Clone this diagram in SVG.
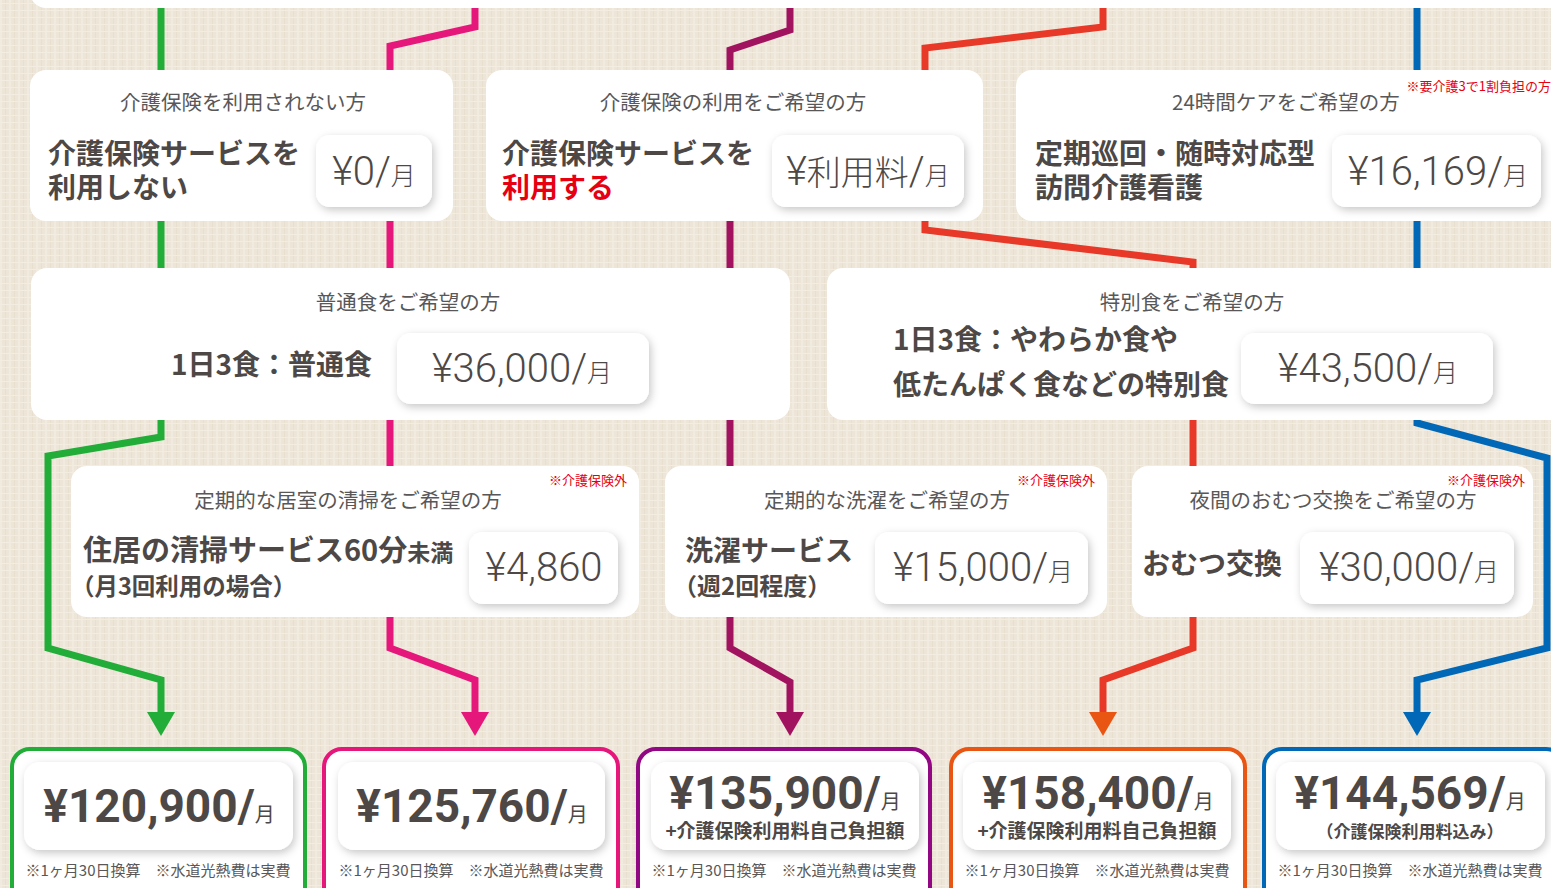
<svg xmlns="http://www.w3.org/2000/svg" width="1551" height="888" viewBox="0 0 1551 888">
<defs>
<pattern id="tex" width="9" height="7" patternUnits="userSpaceOnUse">
<rect width="9" height="7" fill="#ede5d7"/>
<rect x="0" y="0" width="2" height="7" fill="#f1ebdf"/>
<rect x="5" y="0" width="1" height="7" fill="#e8dfcf"/>
<rect x="0" y="3" width="9" height="1" fill="#f2ece1"/>
</pattern>
<filter id="sh" x="-20%" y="-30%" width="140%" height="170%">
<feDropShadow dx="2" dy="3" stdDeviation="4" flood-color="#000" flood-opacity="0.22"/>
</filter>
<style>
.card{fill:#fff}
.pill{fill:#fff;filter:url(#sh)}
.ln{fill:none;stroke-width:7;stroke-linejoin:miter}
.sub{font-family:"Noto Sans CJK JP","Noto Sans",sans-serif;font-size:20.5px;fill:#595757;text-anchor:middle}
.main{font-family:"Noto Sans CJK JP","Noto Sans",sans-serif;font-size:28px;font-weight:700;fill:#4d4846}
.red{fill:#e60012}
.price{font-family:Roboto,"Noto Sans CJK JP",sans-serif;font-size:40px;font-weight:300;fill:#4d4846;text-anchor:middle}
.tsu{font-family:"Noto Sans CJK JP",sans-serif;font-size:25px}
.big{font-family:Roboto,"Noto Sans CJK JP",sans-serif;font-size:46px;font-weight:700;fill:#4d4846;text-anchor:middle}
.bt{font-family:"Noto Sans CJK JP",sans-serif;font-size:20px;font-weight:400}
.plus{font-family:"Noto Sans CJK JP",sans-serif;font-size:19px;font-weight:700;fill:#4d4846;text-anchor:middle}
.note{font-family:"Noto Sans CJK JP",sans-serif;font-size:13px;fill:#e60012;text-anchor:end}
.foot{font-family:"Noto Sans CJK JP",sans-serif;font-size:15px;fill:#595757;text-anchor:middle}
</style>
</defs>
<rect width="1551" height="888" fill="url(#tex)"/>

<g id="connectors">
<path class="ln" stroke="#22ac38" d="M161,0 V437 L48,456 V648 L161,680 V714"/>
<polygon fill="#22ac38" points="147,712 175,712 161,736"/>
<path class="ln" stroke="#e5177b" d="M475,0 V27 L390,46 V648 L475,680 V714"/>
<polygon fill="#e5177b" points="461,712 489,712 475,736"/>
<path class="ln" stroke="#a2135f" d="M790,0 V30 L730,50 V648 L790,682 V714"/>
<polygon fill="#a2135f" points="776,712 804,712 790,736"/>
<path class="ln" stroke="#e83828" d="M1103,0 V27 L925,48 V230 L1193,262 V648 L1103,680 V714"/>
<polygon fill="#e95513" points="1089,712 1117,712 1103,736"/>
<path class="ln" stroke="#0068b7" d="M1417,0 V423 L1547,458 V648 L1417,680 V714"/>
<polygon fill="#0068b7" points="1403,712 1431,712 1417,736"/>
</g>

<g id="top-card"><rect class="card" x="30" y="-40" width="1540" height="48" rx="16"/></g>

<g id="node-no-insurance">
<rect class="card" x="30" y="70" width="423" height="151" rx="16"/>
<text class="sub" x="243" y="110">介護保険を利用されない方</text>
<text class="main" x="48" y="164">介護保険サービスを</text>
<text class="main" x="48" y="198">利用しない</text>
<rect class="pill" x="316" y="135" width="116" height="72" rx="14"/>
<text class="price" x="374" y="185">¥0/<tspan class="tsu">月</tspan></text>
</g>

<g id="node-insurance">
<rect class="card" x="486" y="70" width="497" height="151" rx="16"/>
<text class="sub" x="733" y="110">介護保険の利用をご希望の方</text>
<text class="main" x="502" y="164">介護保険サービスを</text>
<text class="main red" x="502" y="198">利用する</text>
<rect class="pill" x="772" y="135" width="192" height="72" rx="14"/>
<text class="price" x="868" y="185">¥<tspan font-family="Noto Sans CJK JP" font-size="34">利用料</tspan>/<tspan class="tsu">月</tspan></text>
</g>

<g id="node-24h">
<rect class="card" x="1016" y="70" width="560" height="151" rx="16"/>
<text class="note" x="1551" y="91">※要介護3で1割負担の方</text>
<text class="sub" x="1286" y="110">24時間ケアをご希望の方</text>
<text class="main" x="1035" y="164">定期巡回・随時対応型</text>
<text class="main" x="1035" y="198">訪問介護看護</text>
<rect class="pill" x="1332" y="135" width="209" height="72" rx="14"/>
<text class="price" x="1438" y="185">¥16,169/<tspan class="tsu">月</tspan></text>
</g>

<g id="node-normal-meal">
<rect class="card" x="31" y="268" width="759" height="152" rx="16"/>
<text class="sub" x="408" y="310">普通食をご希望の方</text>
<text class="main" x="171" y="375">1日3食：普通食</text>
<rect class="pill" x="397" y="333" width="252" height="71" rx="14"/>
<text class="price" x="522" y="382">¥36,000/<tspan class="tsu">月</tspan></text>
</g>

<g id="node-special-meal">
<rect class="card" x="827" y="268" width="740" height="152" rx="16"/>
<text class="sub" x="1192" y="310">特別食をご希望の方</text>
<text class="main" x="893" y="350">1日3食：やわらか食や</text>
<text class="main" x="893" y="395">低たんぱく食などの特別食</text>
<rect class="pill" x="1241" y="333" width="252" height="71" rx="14"/>
<text class="price" x="1368" y="382">¥43,500/<tspan class="tsu">月</tspan></text>
</g>

<g id="node-cleaning">
<rect class="card" x="71" y="466" width="568" height="151" rx="16"/>
<text class="note" x="627" y="485">※介護保険外</text>
<text class="sub" x="348" y="508">定期的な居室の清掃をご希望の方</text>
<text class="main" x="83" y="561" style="font-size:29px">住居の清掃サービス60分<tspan style="font-size:23px">未満</tspan></text>
<text class="main" x="71" y="595" style="font-size:23.5px">（月3回利用の場合）</text>
<rect class="pill" x="469" y="532" width="149" height="72" rx="14"/>
<text class="price" x="544" y="581">¥4,860</text>
</g>

<g id="node-laundry">
<rect class="card" x="665" y="466" width="442" height="151" rx="16"/>
<text class="note" x="1095" y="485">※介護保険外</text>
<text class="sub" x="887" y="508">定期的な洗濯をご希望の方</text>
<text class="main" x="685" y="561">洗濯サービス</text>
<text class="main" x="673" y="595" style="font-size:24px">（週2回程度）</text>
<rect class="pill" x="875" y="532" width="213" height="72" rx="14"/>
<text class="price" x="983" y="581">¥15,000/<tspan class="tsu">月</tspan></text>
</g>

<g id="node-diaper">
<rect class="card" x="1132" y="466" width="401" height="151" rx="16"/>
<text class="note" x="1525" y="485">※介護保険外</text>
<text class="sub" x="1333" y="508">夜間のおむつ交換をご希望の方</text>
<text class="main" x="1142" y="574">おむつ交換</text>
<rect class="pill" x="1300" y="532" width="214" height="72" rx="14"/>
<text class="price" x="1409" y="581">¥30,000/<tspan class="tsu">月</tspan></text>
</g>

<g id="total-green">
<rect x="12" y="749" width="293" height="170" rx="18" fill="#fff" stroke="#22ac38" stroke-width="4"/>
<rect class="pill" x="24" y="762" width="269" height="88" rx="16"/>
<text class="big" x="159" y="822">¥120,900/<tspan class="bt">月</tspan></text>
<text class="foot" x="158" y="876">※1ヶ月30日換算　※水道光熱費は実費</text>
</g>

<g id="total-pink">
<rect x="324" y="749" width="294" height="170" rx="18" fill="#fff" stroke="#e5177b" stroke-width="4"/>
<rect class="pill" x="338" y="762" width="267" height="88" rx="16"/>
<text class="big" x="472" y="822">¥125,760/<tspan class="bt">月</tspan></text>
<text class="foot" x="471" y="876">※1ヶ月30日換算　※水道光熱費は実費</text>
</g>

<g id="total-purple">
<rect x="638" y="749" width="292" height="170" rx="18" fill="#fff" stroke="#920783" stroke-width="4"/>
<rect class="pill" x="651" y="762" width="268" height="88" rx="16"/>
<text class="big" x="785" y="809">¥135,900/<tspan class="bt">月</tspan></text>
<text class="plus" x="785" y="838">+介護保険利用料自己負担額</text>
<text class="foot" x="784" y="876">※1ヶ月30日換算　※水道光熱費は実費</text>
</g>

<g id="total-orange">
<rect x="951" y="749" width="294" height="170" rx="18" fill="#fff" stroke="#e95513" stroke-width="4"/>
<rect class="pill" x="963" y="762" width="268" height="88" rx="16"/>
<text class="big" x="1098" y="809">¥158,400/<tspan class="bt">月</tspan></text>
<text class="plus" x="1097" y="838">+介護保険利用料自己負担額</text>
<text class="foot" x="1097" y="876">※1ヶ月30日換算　※水道光熱費は実費</text>
</g>

<g id="total-blue">
<rect x="1264" y="749" width="300" height="170" rx="18" fill="#fff" stroke="#0068b7" stroke-width="4"/>
<rect class="pill" x="1276" y="762" width="269" height="88" rx="16"/>
<text class="big" x="1410" y="809">¥144,569/<tspan class="bt">月</tspan></text>
<text class="plus" x="1410" y="838" style="font-size:17px">（介護保険利用料込み）</text>
<text class="foot" x="1410" y="876">※1ヶ月30日換算　※水道光熱費は実費</text>
</g>
</svg>
